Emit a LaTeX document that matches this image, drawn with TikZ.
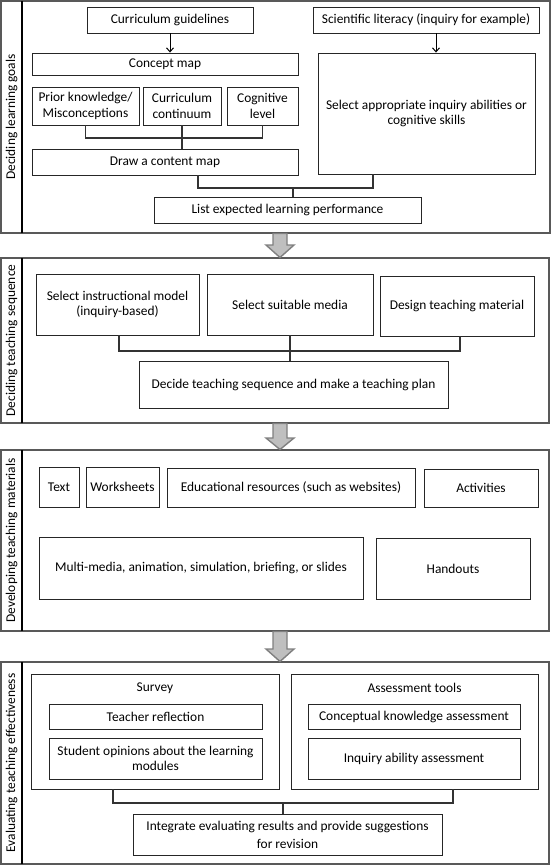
\documentclass[tikz,border=0pt]{standalone}
\usepackage{fontspec}
\setmainfont{Carlito}
\usetikzlibrary{arrows.meta}
\begin{document}
\begin{tikzpicture}[x=1pt,y=-1pt,
  every node/.style={font=\fontsize{13.4}{15.5}\selectfont, align=center, inner sep=0pt},
  bx/.style={draw=black!85, line width=0.9pt, rectangle},
  frame/.style={draw=black!65, line width=1.1pt, rectangle},
  divider/.style={draw=black, line width=1.3pt},
  lab/.style={rotate=90},
  conn/.style={draw=black!80, line width=1.1pt},
  arr/.style={draw=black, line width=1pt, -{Straight Barb[length=4pt,width=7pt]}},
  garrow/.style={draw=black!50, fill=black!25, line width=1.4pt, line join=miter}
]
\useasboundingbox (0,0) rectangle (552,865);

% ---------- Section 1 ----------
\node[frame, minimum width=549, minimum height=232] (f1) at (275.5,117) {};
\draw[divider] (22,1) -- (22,233);
\node[lab] (l1) at (11.5,117) {Deciding learning goals};

\node[bx, minimum width=166, minimum height=26] (cg) at (170,20) {Curriculum guidelines};
\node[bx, minimum width=226, minimum height=26] (sl) at (426,20) {Scientific literacy (inquiry for example)};
\node[bx, minimum width=266, minimum height=22] (cm) at (165,64) {Concept map};
\node[bx, minimum width=107, minimum height=38] (pk) at (85.5,106) {Prior knowledge/\\Misconceptions};
\node[bx, minimum width=78, minimum height=38] (cc) at (182,106) {Curriculum\\continuum};
\node[bx, minimum width=71, minimum height=38] (cl) at (262.5,106) {Cognitive\\level};
\node[bx, minimum width=266, minimum height=26] (dcm) at (165,162) {Draw a content map};
\node[bx, minimum width=217, minimum height=121] (sel) at (426.5,113.5) {Select appropriate inquiry abilities or\\cognitive skills};
\node[bx, minimum width=267, minimum height=26] (lel) at (287.5,210) {List expected learning performance};

\draw[arr] (cg.south) -- (cg.south |- cm.north);
\draw[arr] ([xshift=10]sl.south) -- ([xshift=10]sl.south |- sel.north);
\coordinate (j1) at (182,138);
\draw[conn] (pk.south) |- (j1) -| (cl.south);
\draw[conn] (cc.south) -- (cc.south |- dcm.north);
\coordinate (j2) at (293,188);
\draw[conn] ([xshift=33]dcm.south) |- (j2) -| ([xshift=-53.5]sel.south);
\draw[conn] (j2) -- (j2 |- lel.north);

% ---------- Section 2 ----------
\node[frame, minimum width=548, minimum height=165] (f2) at (275,340.5) {};
\draw[divider] (22,258) -- (22,423);
\node[lab] (l2) at (11.5,340.5) {Deciding teaching sequence};

\node[bx, minimum width=163, minimum height=61] (sim) at (117.5,304.5) {Select instructional model\\(inquiry-based)};
\node[bx, minimum width=166, minimum height=61] (ssm) at (290,304.5) {Select suitable media};
\node[bx, minimum width=154, minimum height=60] (dtm) at (457,306) {Design teaching material};
\node[bx, minimum width=309, minimum height=47] (dts) at (293.5,384.5) {Decide teaching sequence and make a teaching plan};
\coordinate (j3) at (290,351);
\draw[conn] ([xshift=1.5]sim.south) |- (j3) -| ([xshift=3]dtm.south);
\draw[conn] (ssm.south) -- (ssm.south |- dts.north);

% ---------- Section 3 ----------
\node[frame, minimum width=548, minimum height=181] (f3) at (275,540.5) {};
\draw[divider] (22,450) -- (22,631);
\node[lab] (l3) at (11.5,540.5) {Developing teaching materials};

\node[bx, minimum width=40, minimum height=40] (txt) at (59,487) {Text};
\node[bx, minimum width=73, minimum height=40] (wks) at (122.5,487) {Worksheets};
\node[bx, minimum width=248, minimum height=39] (edu) at (291,487.5) {Educational resources (such as websites)};
\node[bx, minimum width=114, minimum height=38] (act) at (481,488) {Activities};
\node[bx, minimum width=324, minimum height=62] (mm) at (201,568) {Multi-media, animation, simulation, briefing, or slides};
\node[bx, minimum width=154, minimum height=61] (ho) at (453,568.5) {Handouts};

% ---------- Section 4 ----------
\node[frame, minimum width=548, minimum height=202] (f4) at (275,763) {};
\draw[divider] (22,662) -- (22,864);
\node[lab] (l4) at (11.5,763) {Evaluating teaching effectiveness};

\node[bx, minimum width=248, minimum height=115] (sv) at (155,731.5) {};
\node (svt) at (155,688) {Survey};
\node[bx, minimum width=247, minimum height=115] (at) at (414.5,731.5) {};
\node (att) at (414.5,688) {Assessment tools};
\node[bx, minimum width=213, minimum height=25] (tr) at (155.5,716.5) {Teacher reflection};
\node[bx, minimum width=213, minimum height=41] (so) at (155.5,758.5) {Student opinions about the learning\\modules};
\node[bx, minimum width=212, minimum height=25] (ck) at (414,716.5) {Conceptual knowledge assessment};
\node[bx, minimum width=212, minimum height=41] (ia) at (414,758.5) {Inquiry ability assessment};
\node[bx, minimum width=309, minimum height=41, font=\fontsize{13.4}{18}\selectfont] (ig) at (287.5,834.5) {Integrate evaluating results and provide suggestions\\for revision};
\coordinate (j4) at (283,803);
\draw[conn] ([xshift=-42]sv.south) |- (j4) -| ([xshift=38.5]at.south);
\draw[conn] (j4) -- (j4 |- ig.north);

% ---------- Gray block arrows ----------
\draw[garrow] (273,233.5) -- (273,245) -- (266,245) -- (280,257.5) -- (294,245) -- (287,245) -- (287,233.5) -- cycle;
\draw[garrow] (273,423.5) -- (273,438) -- (266,438) -- (280,449.5) -- (294,438) -- (287,438) -- (287,423.5) -- cycle;
\draw[garrow] (273,631.5) -- (273,649) -- (266,649) -- (280,661.5) -- (294,649) -- (287,649) -- (287,631.5) -- cycle;
\end{tikzpicture}
\end{document}
